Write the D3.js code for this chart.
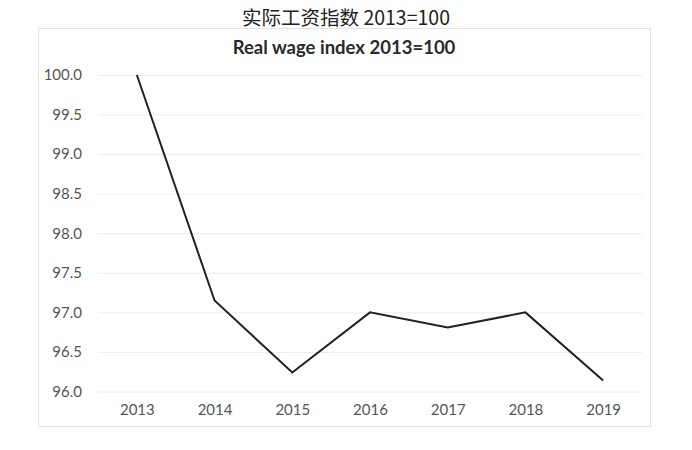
<!DOCTYPE html>
<html><head><meta charset="utf-8">
<script src="https://cdn.jsdelivr.net/npm/d3@7"></script>
<style>body{margin:0;background:#fff;} svg{display:block;}</style>
</head><body>
<svg id="c" width="692" height="450"></svg>
<script>
const years = ["2013","2014","2015","2016","2017","2018","2019"];
const values = [100.0, 97.15, 96.24, 97.0, 96.81, 97.0, 96.14];
const yTicks = [96.0, 96.5, 97.0, 97.5, 98.0, 98.5, 99.0, 99.5, 100.0];
const outerTitle = "实际工资指数 2013=100";
const innerTitle = "Real wage index 2013=100";

const svg = d3.select("#c");
const mLeft = 98, mRight = 642, mTop = 75, mBottom = 391.5;
const latin = "Lato, 'Open Sans', sans-serif";

svg.append("rect").attr("x",38.5).attr("y",28.5).attr("width",612).attr("height",398)
  .attr("fill","#fff").attr("stroke","#e3e3e3");

svg.append("text").attr("x",346).attr("y",25).attr("text-anchor","middle")
  .attr("font-family","'Noto Sans CJK SC', 'Noto Sans', sans-serif").attr("font-size",19.5)
  .attr("fill","#222").text(outerTitle);
svg.append("text").attr("x",344).attr("y",54).attr("text-anchor","middle")
  .attr("font-family",latin).attr("font-weight","bold").attr("font-size",18.5)
  .attr("fill","#2a2a2a").text(innerTitle);

const x = d3.scalePoint().domain(years).range([mLeft, mRight]).padding(0.5);
const y = d3.scaleLinear().domain([96, 100]).range([mBottom, mTop]);

const yAxis = d3.axisLeft(y).tickValues(yTicks).tickFormat(d3.format(".1f")).tickSize(-(mRight-mLeft)).tickPadding(16);
const gy = svg.append("g").attr("transform",`translate(${mLeft},0)`).call(yAxis);
gy.select(".domain").remove();
gy.selectAll("line").attr("stroke","#ececec").attr("stroke-width",1);
gy.selectAll("text").attr("fill","#555").attr("font-size",15).attr("font-family",latin);

const xAxis = d3.axisBottom(x).tickSize(0).tickPadding(13);
const gx = svg.append("g").attr("transform",`translate(0,${mBottom})`).call(xAxis);
gx.select(".domain").remove();
gx.selectAll("text").attr("fill","#555").attr("font-size",15).attr("font-family",latin);

const line = d3.line().x((d,i)=>x(years[i])).y(d=>y(d));
svg.append("path").datum(values).attr("d",line).attr("fill","none")
  .attr("stroke","#222").attr("stroke-width",2);
</script>
</body></html>
